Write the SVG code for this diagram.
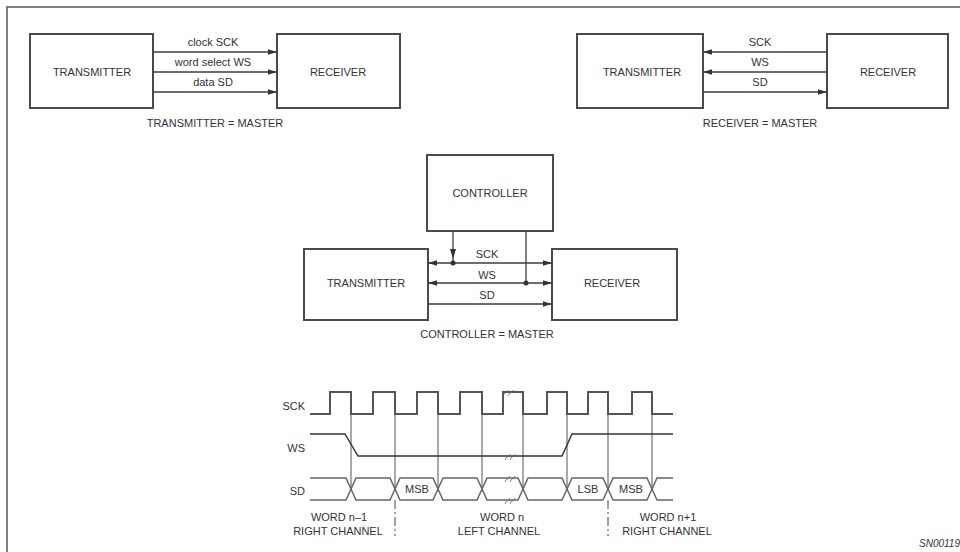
<svg xmlns="http://www.w3.org/2000/svg" width="960" height="552" viewBox="0 0 960 552">
<defs>
<style>
.box{fill:#fff;stroke:#4a4a4a;stroke-width:2}
.ln{fill:none;stroke:#3c3c3c;stroke-width:1.3}
.t{font-family:"Liberation Sans",Arial,sans-serif;font-size:11px;fill:#333;text-anchor:middle}
.tr{font-family:"Liberation Sans",Arial,sans-serif;font-size:11px;fill:#333;text-anchor:end}
.wave{fill:none;stroke:#555;stroke-width:2}
.thin{fill:none;stroke:#555;stroke-width:1}
.brk{fill:none;stroke:#666;stroke-width:0.8}
</style>
<marker id="ah" viewBox="0 0 10 6" refX="10" refY="3" markerWidth="9" markerHeight="6" markerUnits="userSpaceOnUse" orient="auto-start-reverse">
<path d="M0,0 L10,3 L0,6 z" fill="#333"/>
</marker>
<path id="bm" class="brk" d="M-5,4 q1,-3 2.5,-3 q1.5,0 2.5,-3 M0,4 q1,-3 2.5,-3 q1.5,0 2.5,-3"/>
</defs>
<rect width="960" height="552" fill="#fff"/>
<rect x="7" y="7" width="1000" height="600" fill="none" stroke="#555" stroke-width="1.5"/>

<!-- top-left: transmitter master -->
<g id="tl-transmitter"><rect class="box" x="30" y="34" width="123" height="74"/><text class="t" x="92" y="76">TRANSMITTER</text></g>
<g id="tl-receiver"><rect class="box" x="277" y="34" width="123" height="74"/><text class="t" x="338" y="76">RECEIVER</text></g>
<text class="t" x="215" y="127">TRANSMITTER = MASTER</text>

<!-- top-right: receiver master -->
<g id="tr-transmitter"><rect class="box" x="577" y="34" width="126" height="74"/><text class="t" x="642" y="76">TRANSMITTER</text></g>
<g id="tr-receiver"><rect class="box" x="827" y="34" width="121" height="74"/><text class="t" x="888" y="76">RECEIVER</text></g>
<text class="t" x="760" y="127">RECEIVER = MASTER</text>

<!-- middle: controller master -->
<g id="controller"><rect class="box" x="427" y="155" width="126" height="76"/><text class="t" x="490" y="197">CONTROLLER</text></g>
<g id="mid-transmitter"><rect class="box" x="304" y="249" width="124" height="71"/><text class="t" x="366" y="287">TRANSMITTER</text></g>
<g id="mid-receiver"><rect class="box" x="552" y="249" width="125" height="71"/><text class="t" x="612" y="287">RECEIVER</text></g>
<text class="t" x="487" y="338">CONTROLLER = MASTER</text>

<g id="connectors">
<line class="ln" x1="153" y1="52" x2="277" y2="52" marker-end="url(#ah)"/>
<line class="ln" x1="153" y1="72" x2="277" y2="72" marker-end="url(#ah)"/>
<line class="ln" x1="153" y1="92" x2="277" y2="92" marker-end="url(#ah)"/>
<text class="t" x="213" y="46">clock SCK</text>
<text class="t" x="213" y="66">word select WS</text>
<text class="t" x="213" y="86">data SD</text>

<line class="ln" x1="703" y1="52" x2="827" y2="52" marker-start="url(#ah)"/>
<line class="ln" x1="703" y1="72" x2="827" y2="72" marker-start="url(#ah)"/>
<line class="ln" x1="703" y1="92" x2="827" y2="92" marker-end="url(#ah)"/>
<text class="t" x="760" y="46">SCK</text>
<text class="t" x="760" y="66">WS</text>
<text class="t" x="760" y="86">SD</text>

<line class="ln" x1="428" y1="263" x2="552" y2="263" marker-start="url(#ah)" marker-end="url(#ah)"/>
<line class="ln" x1="428" y1="283" x2="552" y2="283" marker-start="url(#ah)" marker-end="url(#ah)"/>
<line class="ln" x1="428" y1="304" x2="552" y2="304" marker-end="url(#ah)"/>
<line class="ln" x1="453" y1="231" x2="453" y2="263"/>
<path d="M450,249 L456,249 L453,259 z" fill="#333"/>
<line class="ln" x1="526" y1="231" x2="526" y2="283"/>
<circle cx="453" cy="263" r="2.5" fill="#333"/>
<circle cx="526" cy="283" r="2.5" fill="#333"/>
<text class="t" x="487" y="258">SCK</text>
<text class="t" x="487" y="279">WS</text>
<text class="t" x="487" y="299">SD</text>
</g>

<!-- timing diagram -->
<g id="timing">
<text class="tr" x="305" y="410">SCK</text>
<text class="tr" x="305" y="452">WS</text>
<text class="tr" x="305" y="495">SD</text>
<g class="thin">
<line x1="351" y1="392" x2="351" y2="489"/>
<line x1="395" y1="392" x2="395" y2="489"/>
<line x1="438" y1="392" x2="438" y2="489"/>
<line x1="482" y1="392" x2="482" y2="489"/>
<line x1="523" y1="392" x2="523" y2="489"/>
<line x1="567" y1="392" x2="567" y2="489"/>
<line x1="608" y1="392" x2="608" y2="489"/>
<line x1="652" y1="392" x2="652" y2="489"/>
</g>
<path class="wave" d="M310,414 H330 V392 H351 V414 H373 V392 H395 V414 H417 V392 H438 V414 H460 V392 H482 V414 H503 V392 H523 V414 H547 V392 H567 V414 H588 V392 H608 V414 H632 V392 H652 V414 H673"/>
<path fill="none" stroke="#333" stroke-width="1.4" d="M310,434 H345 L358,456 H562 L572,434 H673"/>
<path fill="none" stroke="#666" stroke-width="1.5" d="M310,478 H346 L351,489 L356,478 H390 L395,489 L400,478 H433 L438,489 L443,478 H477 L482,489 L487,478 H518 L523,489 L528,478 H562 L567,489 L572,478 H603 L608,489 L613,478 H647 L652,489 L657,478 H673"/>
<path fill="none" stroke="#666" stroke-width="1.5" d="M310,500 H346 L351,489 L356,500 H390 L395,489 L400,500 H433 L438,489 L443,500 H477 L482,489 L487,500 H518 L523,489 L528,500 H562 L567,489 L572,500 H603 L608,489 L613,500 H647 L652,489 L657,500 H673"/>
<use href="#bm" x="508" y="392"/>
<use href="#bm" x="510" y="456"/>
<use href="#bm" x="510" y="478"/>
<use href="#bm" x="510" y="500"/>
<text class="t" x="417" y="493" font-size="10.5">MSB</text>
<text class="t" x="588" y="493" font-size="10.5">LSB</text>
<text class="t" x="631" y="493" font-size="10.5">MSB</text>
<line x1="395" y1="500" x2="395" y2="536" stroke="#444" stroke-width="1" stroke-dasharray="9 3 2 3"/>
<line x1="608" y1="500" x2="608" y2="536" stroke="#444" stroke-width="1" stroke-dasharray="9 3 2 3"/>
<text class="t" x="339" y="521">WORD n–1</text>
<text class="t" x="338" y="535">RIGHT CHANNEL</text>
<text class="t" x="502" y="521">WORD n</text>
<text class="t" x="499" y="535">LEFT CHANNEL</text>
<text class="t" x="668" y="521">WORD n+1</text>
<text class="t" x="667" y="535">RIGHT CHANNEL</text>
</g>
<text x="960" y="547" font-family="'Liberation Sans',Arial,sans-serif" font-size="10" font-style="italic" fill="#333" text-anchor="end">SN00119</text>
</svg>
